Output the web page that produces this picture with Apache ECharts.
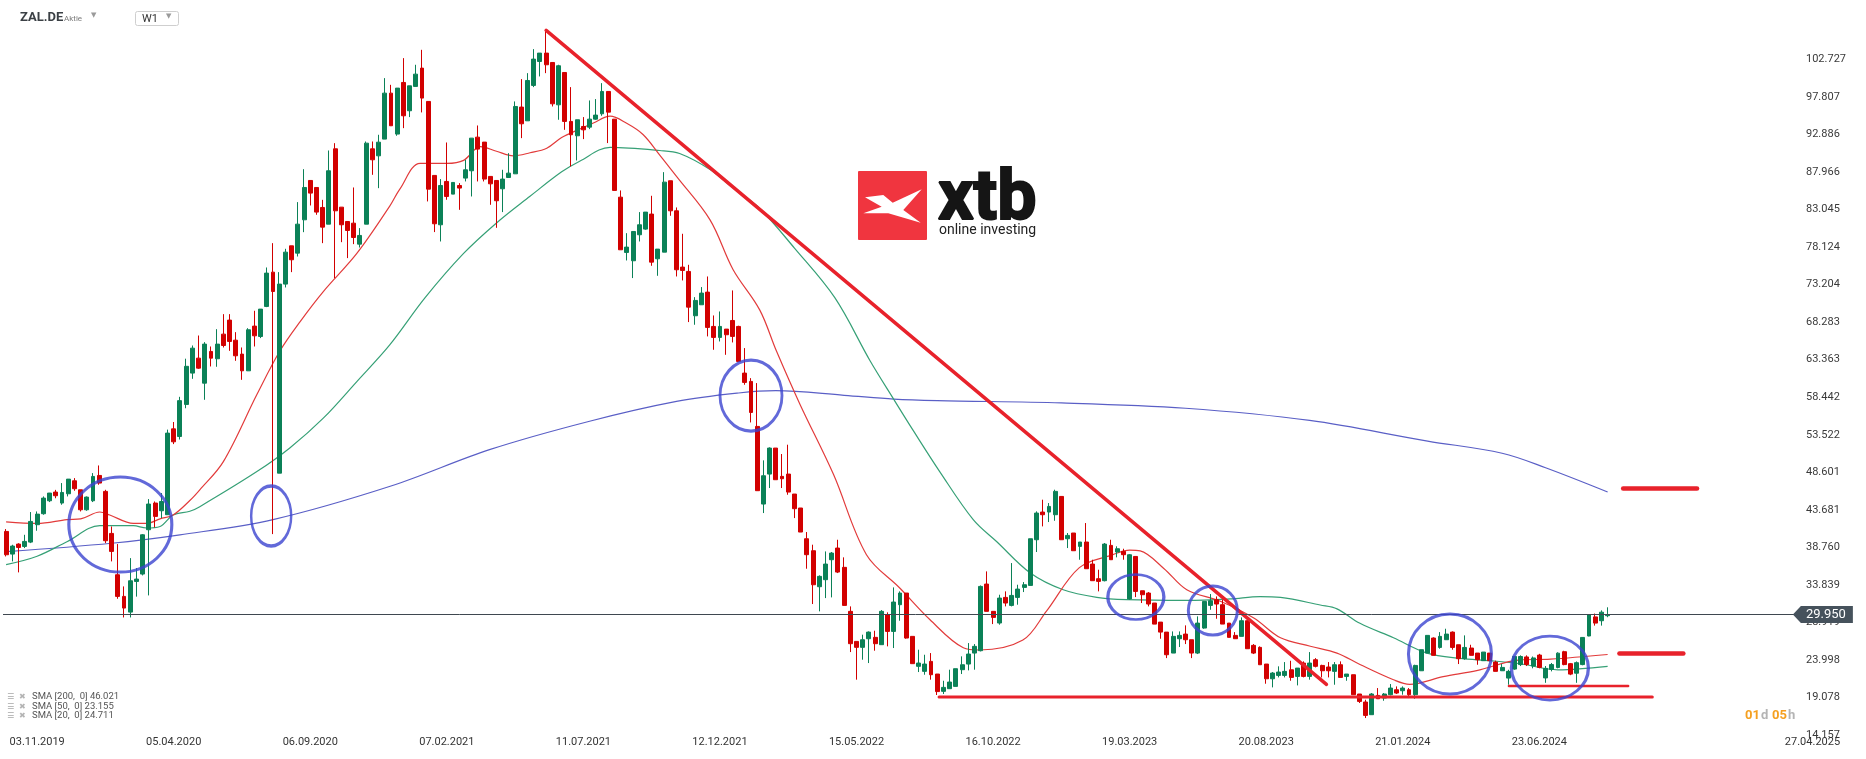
<!DOCTYPE html>
<html>
<head>
<meta charset="utf-8">
<title>ZAL.DE W1</title>
<script src="https://cdn.jsdelivr.net/npm/echarts@6/dist/echarts.min.js"></script>
<style>
  html, body { margin: 0; padding: 0; background: #fff; }
  #chart { width: 1866px; height: 759px; }
</style>
</head>
<body>
<div id="chart"></div>
<script>
// weekly candles, first one is the week of 29.09.2019
var opens = [
  40.85, 37.88, 39.19, 38.88, 39.45, 41.73, 43.17, 44.87, 46.01, 44.57,
  45.79, 47.49, 46.31, 43.69, 44.87, 48.19, 46.10, 40.59, 35.17, 32.33,
  30.27, 34.29, 35.26, 41.07, 44.57, 43.56, 43.04, 54.30, 53.30, 57.50,
  61.61, 63.57, 60.29, 64.45, 63.49, 66.72, 68.56, 65.93, 64.10, 61.91,
  67.77, 66.41, 70.35, 74.85, 48.49, 73.28, 78.30, 77.34, 81.71, 86.87,
  85.95, 83.33, 81.14, 91.02, 83.37, 81.49, 81.27, 78.52, 81.14, 91.02,
  90.10, 92.29, 98.32, 92.95, 99.72, 96.01, 99.20, 101.60, 97.23, 87.53,
  81.06, 86.74, 85.08, 86.21, 87.18, 88.14, 92.55, 91.90, 87.40, 86.87,
  85.78, 87.26, 87.74, 96.49, 94.69, 99.33, 102.47, 103.57, 102.34, 96.79,
  101.03, 94.61, 92.73, 93.95, 93.86, 94.91, 95.61, 98.54, 94.91, 84.68,
  77.43, 76.34, 79.75, 80.49, 82.46, 76.60, 77.47, 86.83, 82.89, 75.51,
  74.94, 69.13, 70.57, 72.23, 67.73, 66.29, 67.38, 68.51, 67.73, 61.61,
  60.52, 54.62, 44.44, 48.37, 51.78, 48.07, 48.37, 45.75, 43.92, 39.89,
  38.32, 33.60, 34.52, 37.14, 38.67, 36.14, 30.37, 26.43, 25.65, 26.78,
  26.96, 26.00, 29.93, 27.74, 31.24, 32.77, 27.09, 23.16, 22.50, 23.81,
  22.15, 19.88, 20.23, 20.53, 22.72, 23.46, 24.90, 25.21, 33.95, 30.37,
  28.84, 32.20, 31.15, 32.20, 33.51, 33.77, 39.76, 43.39, 43.39, 43.04,
  45.44, 39.89, 40.64, 38.89, 39.46, 36.57, 34.65, 34.39, 39.02, 38.15,
  38.23, 32.00, 37.57, 33.07, 32.77, 31.46, 28.96, 27.65, 24.90, 26.78,
  27.39, 26.65, 24.90, 28.18, 31.15, 31.89, 31.24, 28.83, 27.22, 27.09,
  29.14, 25.91, 25.65, 23.46, 21.53, 21.97, 21.97, 22.71, 21.84, 23.59,
  21.84, 24.03, 23.28, 23.07, 22.50, 23.37, 21.84, 22.06, 19.53, 18.48,
  16.82, 19.35, 19.00, 19.44, 20.09, 19.96, 20.09, 19.44, 22.58, 24.90,
  26.87, 25.64, 26.65, 27.65, 25.99, 24.16, 25.56, 24.90, 23.90, 24.90,
  23.72, 22.58, 21.62, 22.80, 23.39, 24.39, 23.20, 24.64, 21.64, 22.76,
  23.01, 25.08, 23.51, 22.26, 23.39, 27.14, 29.64, 29.14, 29.80
];
var closes = [
  37.79, 38.93, 38.75, 39.54, 42.16, 43.12, 45.22, 45.88, 45.53, 45.96,
  47.71, 46.45, 43.69, 45.35, 48.06, 47.19, 39.63, 38.23, 32.33, 30.80,
  34.38, 34.60, 40.41, 44.44, 42.82, 44.78, 53.74, 52.60, 58.00, 62.50,
  64.88, 62.26, 65.41, 63.57, 65.41, 65.23, 65.76, 63.88, 61.91, 67.29,
  66.50, 70.00, 74.72, 72.31, 73.28, 77.47, 76.47, 81.14, 85.95, 85.21,
  82.72, 80.75, 88.14, 82.89, 81.06, 80.31, 79.39, 79.66, 91.76, 89.58,
  91.89, 98.32, 94.04, 98.98, 95.35, 99.28, 100.81, 97.67, 85.73, 81.19,
  86.21, 84.77, 86.61, 85.87, 88.27, 92.42, 90.98, 87.05, 86.43, 84.21,
  87.05, 87.83, 96.57, 94.30, 99.98, 102.78, 103.57, 102.04, 96.92, 101.91,
  94.61, 92.86, 94.83, 93.51, 94.91, 95.44, 98.54, 95.83, 85.56, 77.78,
  78.13, 80.18, 81.06, 82.72, 76.16, 77.87, 86.65, 82.89, 75.16, 75.07,
  70.26, 71.14, 72.10, 67.60, 66.29, 67.73, 66.64, 66.42, 63.14, 60.39,
  56.45, 46.19, 48.15, 51.78, 47.63, 47.76, 46.01, 43.83, 40.77, 37.80,
  33.86, 34.96, 36.57, 38.01, 35.52, 31.15, 26.13, 25.65, 26.65, 27.65,
  26.13, 30.37, 27.74, 31.59, 32.77, 26.87, 23.51, 23.59, 23.46, 22.06,
  19.85, 20.40, 21.10, 22.85, 23.37, 24.77, 25.78, 33.64, 30.37, 29.58,
  32.11, 31.46, 32.46, 33.29, 33.86, 39.89, 43.26, 43.04, 44.13, 46.10,
  39.76, 40.33, 38.32, 39.46, 35.96, 34.39, 34.30, 39.19, 37.14, 38.58,
  37.80, 37.79, 32.98, 32.55, 31.33, 28.70, 27.65, 24.68, 27.09, 27.22,
  26.65, 24.90, 28.83, 31.67, 31.76, 31.33, 28.70, 26.96, 26.78, 29.14,
  25.47, 24.90, 23.37, 21.53, 22.28, 22.41, 22.50, 21.71, 22.93, 21.84,
  23.59, 23.16, 22.58, 22.58, 23.37, 21.71, 22.15, 19.44, 18.56, 16.73,
  19.53, 18.91, 19.53, 20.31, 19.66, 20.31, 19.44, 23.28, 25.34, 27.22,
  24.60, 27.09, 27.39, 25.64, 24.16, 25.64, 24.60, 24.03, 25.03, 23.90,
  22.50, 23.02, 22.50, 24.46, 24.45, 23.39, 24.26, 23.01, 22.89, 23.39,
  24.89, 23.39, 22.14, 23.64, 26.95, 29.89, 28.83, 30.26, 29.95
];
var lows = [
  37.57, 36.92, 35.48, 38.67, 39.32, 40.94, 43.04, 44.70, 45.20, 44.35,
  45.44, 46.18, 43.47, 43.56, 44.70, 46.97, 39.32, 36.92, 32.02, 29.57,
  29.57, 32.30, 35.08, 32.46, 41.38, 42.60, 43.04, 52.30, 52.90, 57.00,
  60.86, 62.17, 58.11, 62.48, 62.44, 64.97, 64.53, 63.22, 60.73, 61.91,
  65.10, 66.20, 70.26, 40.50, 48.49, 72.84, 74.85, 76.90, 80.09, 83.59,
  82.37, 78.65, 81.14, 74.06, 78.78, 76.69, 78.52, 78.08, 81.14, 87.61,
  85.86, 92.29, 94.04, 92.73, 93.73, 95.18, 99.20, 95.79, 84.12, 80.10,
  78.87, 84.34, 85.08, 83.02, 86.74, 84.77, 86.74, 86.74, 83.68, 80.66,
  82.72, 87.26, 87.74, 92.42, 94.69, 99.11, 100.51, 100.94, 96.57, 94.83,
  93.51, 88.71, 89.49, 92.29, 93.60, 94.83, 95.35, 91.77, 85.56, 77.78,
  76.38, 74.07, 78.87, 80.40, 75.68, 74.37, 77.47, 82.24, 74.28, 73.76,
  68.30, 67.95, 70.57, 66.42, 64.67, 65.76, 64.01, 65.63, 63.14, 60.08,
  55.14, 46.19, 43.26, 46.54, 47.63, 46.54, 45.66, 42.60, 40.77, 35.96,
  31.33, 30.37, 32.11, 32.20, 35.39, 31.15, 25.03, 21.41, 24.03, 23.59,
  25.21, 26.00, 25.78, 25.56, 29.14, 26.78, 23.51, 22.41, 22.06, 21.41,
  19.40, 19.53, 20.23, 20.53, 22.15, 22.63, 22.72, 25.12, 30.37, 28.70,
  28.62, 31.02, 31.02, 31.24, 32.90, 33.77, 38.15, 41.51, 42.08, 42.25,
  39.76, 38.67, 38.32, 37.14, 35.96, 34.39, 32.99, 34.30, 37.14, 37.45,
  37.14, 31.90, 32.24, 31.46, 31.02, 28.70, 26.78, 24.24, 24.90, 25.69,
  26.08, 24.24, 24.77, 28.09, 30.58, 29.40, 28.70, 26.96, 26.78, 27.09,
  25.47, 24.77, 23.37, 20.88, 20.40, 21.71, 21.71, 21.27, 20.66, 21.71,
  21.41, 23.02, 21.71, 21.71, 20.75, 21.71, 21.27, 19.44, 18.35, 16.38,
  16.82, 18.91, 18.65, 19.35, 19.53, 19.44, 19.00, 18.91, 22.58, 24.90,
  24.60, 25.47, 26.65, 25.34, 23.46, 24.03, 24.60, 23.37, 23.90, 23.81,
  22.50, 22.58, 20.75, 22.71, 23.20, 23.20, 22.90, 22.90, 21.00, 22.50,
  22.90, 23.30, 22.00, 21.00, 23.30, 27.10, 28.50, 28.50, 29.60
];
var highs = [
  41.16, 39.10, 39.30, 40.41, 43.39, 43.47, 45.44, 45.90, 46.30, 47.19,
  47.71, 47.84, 46.31, 45.44, 48.50, 49.50, 46.31, 41.50, 39.19, 33.64,
  37.35, 36.04, 40.50, 45.09, 44.78, 45.88, 54.20, 55.20, 58.50, 63.50,
  65.23, 66.54, 65.67, 65.10, 67.37, 69.34, 69.34, 66.98, 64.97, 67.50,
  69.78, 70.00, 75.46, 78.65, 74.85, 77.91, 78.30, 84.03, 88.35, 86.87,
  85.95, 84.33, 90.80, 91.76, 83.37, 81.49, 85.95, 80.62, 91.98, 91.98,
  92.86, 100.29, 99.41, 98.98, 102.91, 99.28, 102.04, 104.00, 97.23, 87.53,
  87.05, 91.85, 86.61, 86.52, 89.58, 92.42, 94.08, 91.90, 87.40, 86.87,
  88.27, 90.45, 97.23, 100.16, 100.94, 104.09, 103.57, 106.54, 102.34, 102.04,
  101.03, 99.11, 94.83, 95.18, 97.36, 97.54, 99.63, 98.54, 94.91, 85.56,
  79.96, 80.18, 82.72, 82.72, 84.86, 77.87, 87.96, 86.83, 83.33, 79.88,
  75.81, 71.57, 72.89, 74.28, 69.17, 69.69, 67.38, 72.45, 67.82, 64.89,
  60.95, 60.30, 50.17, 51.87, 51.78, 51.00, 52.22, 45.75, 43.92, 40.77,
  39.11, 35.09, 38.23, 38.15, 39.76, 37.45, 31.02, 26.43, 27.31, 27.74,
  27.83, 30.54, 30.24, 33.51, 32.99, 32.77, 27.09, 25.34, 24.68, 24.90,
  22.15, 21.27, 22.72, 22.85, 24.47, 26.21, 26.08, 33.77, 35.61, 30.37,
  32.55, 32.99, 36.70, 33.86, 34.21, 39.89, 43.48, 45.01, 44.57, 46.32,
  45.44, 40.64, 40.64, 39.46, 41.95, 37.14, 35.83, 39.33, 39.76, 38.90,
  38.58, 37.88, 37.57, 33.07, 32.90, 31.46, 28.96, 27.65, 27.74, 27.74,
  28.53, 26.65, 29.71, 31.67, 32.64, 32.33, 31.89, 28.83, 27.65, 29.58,
  29.49, 26.08, 25.78, 23.46, 22.41, 23.16, 23.72, 23.89, 22.93, 23.81,
  25.03, 24.24, 23.37, 23.72, 23.72, 23.81, 22.15, 22.06, 19.53, 18.78,
  19.66, 20.31, 19.66, 20.84, 20.53, 20.53, 20.31, 23.37, 25.34, 27.22,
  26.96, 27.65, 28.09, 27.74, 25.99, 27.22, 25.99, 24.90, 25.03, 24.90,
  23.90, 23.46, 22.71, 24.46, 24.60, 24.60, 24.45, 24.80, 23.20, 23.60,
  25.00, 25.20, 23.60, 23.80, 27.00, 30.00, 30.08, 30.50, 30.90
];

// moving averages: [week index, value]
var sma20 = [
  [0, 42.1], [5, 41.9], [9.8, 42.4], [12, 42.5], [15.1, 43.4], [16.7, 43.0], [20.5, 41.9],
  [22.6, 41.9], [24.8, 42.5], [26.9, 43.0], [29.6, 44.9], [31.2, 46.3], [35, 50.0],
  [40.4, 58.8], [44.1, 64.5], [47.4, 68.4], [51.1, 72.3], [56.5, 77.3], [61.8, 83.5],
  [63.4, 85.7], [66.7, 89.1], [71, 89.1], [73.7, 89.5], [76.4, 91.3], [79, 90.7],
  [81.7, 90.1], [84.4, 90.5], [87.1, 91.1], [89.5, 92.5], [92.4, 93.6], [94.6, 94.4],
  [97.3, 95.3], [99.9, 94.4], [102.6, 92.9], [105.3, 90.2], [108, 87.4], [113.4, 81.7],
  [117.1, 75.2], [121.4, 69.9], [124.1, 64.5], [127.9, 57.5], [133.3, 48.3], [138.6, 37.8],
  [144, 33.4], [148.8, 29.3], [154.2, 25.6], [156.8, 25.3], [163.8, 26.6], [167.6, 30.4],
  [172.9, 36.1], [178.3, 37.8], [181, 38.4], [182.7, 38.3], [186.5, 36.0], [190.2, 33.2],
  [195.6, 31.7], [201, 29.5], [205.3, 26.9], [210.1, 25.8], [214.4, 24.9], [218.1, 23.4],
  [223.5, 21.4], [226.1, 20.8], [231.5, 21.8], [236.9, 22.6], [243.9, 24.0], [248.8, 24.1],
  [258, 24.71]
];
var sma50 = [
  [0, 36.5], [5, 37.6], [9.8, 39.5], [15.1, 41.6], [20.5, 41.6], [22.6, 41.3], [24.8, 41.5],
  [26.9, 43.0], [29.6, 43.5], [31.2, 44.1], [40.4, 48.7], [45.7, 51.8], [51.1, 55.7],
  [56.5, 60.5], [61.8, 65.3], [67.5, 71.5], [73.7, 77.3], [79, 81.3], [84.4, 84.8],
  [89.5, 88.0], [92.4, 89.4], [97.3, 91.2], [105.3, 90.8], [108.5, 90.4], [113.4, 88.3],
  [117.1, 85.9], [121.4, 83.2], [127, 78.0], [133.5, 71.5], [139.2, 63.2], [142.9, 58.3],
  [146.2, 54.0], [150.4, 48.7], [155.8, 42.4], [159.6, 39.5], [165, 35.4], [170.3, 33.2],
  [175.7, 32.2], [180.5, 31.9], [190.2, 31.8], [197.2, 32.0], [202, 32.3], [205.3, 32.2],
  [211.7, 31.2], [214.4, 30.7], [218.1, 28.8], [223.5, 26.9], [228.9, 24.9], [234.2, 24.2],
  [239.1, 23.9], [243.9, 23.5], [250, 22.7], [258, 23.155]
];
var sma200 = [
  [0, 38.2], [17, 39.3], [28, 40.4], [43, 42.4], [62, 46.8], [78, 51.6], [94, 55.3],
  [108, 57.9], [118, 59.0], [124, 59.3], [135, 58.7], [143, 58.2], [150, 58.0],
  [170, 57.7], [190, 57.0], [210, 55.4], [229, 52.7], [241, 51.1], [248, 49.2], [258, 46.021]
];

var xLabels = ['03.11.2019', '05.04.2020', '06.09.2020', '07.02.2021', '11.07.2021', '12.12.2021',
  '15.05.2022', '16.10.2022', '19.03.2023', '20.08.2023', '21.01.2024', '23.06.2024',
  '23.11.2024', '27.04.2025'];
var yLabels = ['14.157', '19.078', '23.998', '28.919', '33.839', '38.760', '43.681', '48.601',
  '53.522', '58.442', '63.363', '68.283', '73.204', '78.124', '83.045', '87.966', '92.886',
  '97.807', '102.727'];

// drawn annotations (week index, price)
var trendLine = [[87, 106.54], [212.7, 20.8]];
var supportLine = [[150.3, 19.14], [265.2, 19.14]];
var supportLine2 = [[242.1, 20.58], [261.3, 20.58]];
var markSma200 = [[260.5, 46.47], [272.4, 46.47]];
var markSma20 = [[259.9, 24.84], [270.2, 24.84]];
var circles = [[18.4, 41.75], [42.7, 42.87], [120.0, 58.66], [182.0, 32.25], [194.4, 30.48], [232.6, 24.78], [248.7, 22.94]];
var circleSizes = [[103, 95], [40, 60], [62, 71], [56, 45], [49, 49], [83, 80], [77, 64]];

var N_CATS = 294;
function pad(n) { return n < 10 ? '0' + n : '' + n; }
var categories = [];
var t0 = Date.UTC(2019, 8, 29);
for (var i = 0; i < N_CATS; i++) {
  var d = new Date(t0 + i * 7 * 86400000);
  categories.push(pad(d.getUTCDate()) + '.' + pad(d.getUTCMonth() + 1) + '.' + d.getUTCFullYear());
}
var candles = opens.map(function (o, i) { return [o, closes[i], lows[i], highs[i]]; });
var lastClose = closes[closes.length - 1];

var yMin = 14.157, yStep = 4.92056, yMax = yMin + 19 * yStep;
var RED = '#e8222b';
var ellipsePath = 'path://M0,50 A50,50 0 1 1 100,50 A50,50 0 1 1 0,50 Z';

function redLine(pts, w) {
  return {
    type: 'line', xAxisIndex: 1, data: pts, symbol: 'none', silent: true, z: 4,
    lineStyle: { color: RED, width: w, cap: 'round' }
  };
}
function smaLine(pts, color) {
  return {
    type: 'line', xAxisIndex: 1, data: pts, symbol: 'none', smooth: 0.35, silent: true, z: 2,
    lineStyle: { color: color, width: 1.2 }
  };
}
function txt(x, y, s, font, fill) {
  return { type: 'text', x: x, y: y, style: { text: s, font: font, fill: fill, verticalAlign: 'middle' } };
}

var chart = echarts.init(document.getElementById('chart'));
chart.setOption({
  animation: false,
  backgroundColor: '#ffffff',
  textStyle: { fontFamily: 'Roboto' },
  grid: { left: 3, right: 38, top: 22, bottom: 24 },
  xAxis: [{
    type: 'category',
    data: categories,
    boundaryGap: true,
    axisLine: { show: false },
    axisTick: { show: false },
    splitLine: { show: false },
    axisLabel: {
      interval: function (idx, val) { return xLabels.indexOf(val) >= 0; },
      color: '#333', fontSize: 11, margin: 2
    }
  }, {
    type: 'value', min: -0.5, max: N_CATS - 0.5, show: false
  }],
  yAxis: {
    type: 'value',
    position: 'right',
    offset: -24,
    min: yMin, max: yMax, interval: yStep,
    axisLine: { show: false },
    axisTick: { show: false },
    splitLine: { show: false },
    axisLabel: {
      color: '#3a3a3a', fontSize: 11, margin: 2, align: 'left', padding: [0, 0, 2, 0],
      formatter: function (v) {
        for (var k = 0; k < yLabels.length; k++) {
          if (Math.abs(parseFloat(yLabels[k]) - v) < 0.3) return yLabels[k];
        }
        return '';
      }
    }
  },
  series: [
    smaLine(sma200, '#5a5fc6'),
    smaLine(sma50, '#36a076'),
    smaLine(sma20, '#e23b3b'),
    {
      type: 'candlestick',
      data: candles,
      barWidth: 4.4,
      z: 3,
      itemStyle: {
        color: '#0b8157', color0: '#d20000',
        borderColor: '#0b8157', borderColor0: '#d20000', borderWidth: 1
      },
      markLine: {
        silent: true, symbol: ['none', 'none'], label: { show: false },
        lineStyle: { color: '#3f4850', width: 1, type: 'solid' },
        data: [{ yAxis: lastClose }]
      },
      markPoint: {
        silent: true,
        symbol: 'path://M0,8.5 L8,0 L60,0 L60,17 L8,17 Z',
        symbolSize: [60, 17],
        symbolOffset: [-2, 0],
        itemStyle: { color: '#46525c' },
        label: { show: true, color: '#fff', fontSize: 13, offset: [3, 0], formatter: lastClose.toFixed(3) },
        data: [{ coord: [N_CATS - 1, lastClose] }]
      }
    },
    redLine(trendLine, 3.5),
    redLine(supportLine, 3),
    redLine(supportLine2, 2.5),
    redLine(markSma200, 4.5),
    redLine(markSma20, 4.5),
    {
      type: 'scatter', xAxisIndex: 1, data: circles, silent: true, z: 5,
      symbol: ellipsePath,
      symbolSize: function (val, p) { return circleSizes[p.dataIndex]; },
      itemStyle: { color: 'rgba(0,0,0,0)', borderColor: '#3b44cf', borderWidth: 3 }
    }
  ],
  graphic: [
    { type: 'text', left: 20, top: 11, style: { text: 'ZAL.DE', font: 'bold 13px Roboto', fill: '#3b4045' } },
    { type: 'text', left: 64, top: 15, style: { text: 'Aktie', font: '8px Roboto', fill: '#7a7a7a' } },
    { type: 'text', left: 91, top: 12, style: { text: '▼', font: '7px "DejaVu Sans"', fill: '#9a9a9a' } },
    { type: 'rect', shape: { x: 135.5, y: 11.5, width: 43, height: 14, r: 2 }, style: { fill: '#fff', stroke: '#cfcfcf', lineWidth: 1 } },
    { type: 'text', left: 142, top: 14, style: { text: 'W1', font: '11px Roboto', fill: '#333' } },
    { type: 'text', left: 166, top: 13, style: { text: '▼', font: '7px "DejaVu Sans"', fill: '#9a9a9a' } },

    // watermark
    { type: 'rect', shape: { x: 858, y: 171, width: 69, height: 69, r: 1 }, style: { fill: '#f0353f' } },
    { type: 'polygon', shape: { points: [[865, 197.3], [883.3, 195], [892.7, 202.7], [921.7, 189.3], [903.3, 210], [920.7, 222.7], [888.3, 213.3], [863.3, 213.3], [881.7, 206.7]] }, style: { fill: '#fff' } },
    { type: 'text', x: 938, y: 201, style: { text: 'xtb', font: 'bold 70px Roboto', fill: '#151515', stroke: '#151515', lineWidth: 2, verticalAlign: 'middle' } },
    txt(939, 230, 'online investing', '14px Roboto', '#222'),

    // indicator legend
    txt(7, 697, '☰', '8px "DejaVu Sans"', '#a8a8a8'),
    txt(19, 697, '✖', '8px "DejaVu Sans"', '#b4b4b4'),
    txt(32, 697, 'SMA [200,  0] 46.021', '9.5px Roboto', '#555'),
    txt(7, 706.5, '☰', '8px "DejaVu Sans"', '#a8a8a8'),
    txt(19, 706.5, '✖', '8px "DejaVu Sans"', '#b4b4b4'),
    txt(32, 706.5, 'SMA [50,  0] 23.155', '9.5px Roboto', '#555'),
    txt(7, 716, '☰', '8px "DejaVu Sans"', '#a8a8a8'),
    txt(19, 716, '✖', '8px "DejaVu Sans"', '#b4b4b4'),
    txt(32, 716, 'SMA [20,  0] 24.711', '9.5px Roboto', '#555'),

    // candle countdown
    txt(1745, 716, '01', 'bold 13px Roboto', '#f5a020'),
    txt(1761, 716, 'd', 'bold 13px Roboto', '#b4b4b4'),
    txt(1772, 716, '05', 'bold 13px Roboto', '#f5a020'),
    txt(1788, 716, 'h', 'bold 13px Roboto', '#b4b4b4')
  ]
});
</script>
</body>
</html>
